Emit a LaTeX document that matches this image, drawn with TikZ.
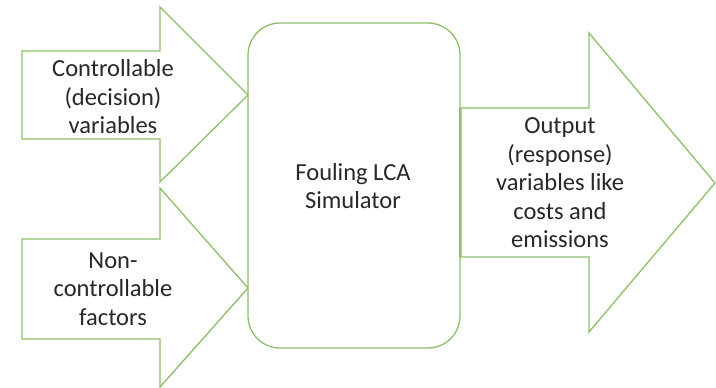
\documentclass[tikz,border=0pt]{standalone}
\usepackage{fontspec}
\setmainfont{Carlito}
\definecolor{arrgreen}{RGB}{140,192,108}
\definecolor{txtgray}{RGB}{40,40,40}
\tikzset{
  shapeline/.style={draw=arrgreen, line width=1.3pt, fill=white, line join=miter},
  lbl/.style={align=center, text=txtgray, font=\fontsize{24.5}{28.5}\selectfont, inner sep=0pt}
}
\begin{document}
\begin{tikzpicture}[x=1pt,y=-1pt]
\useasboundingbox (0,0) rectangle (716,388);
% top input arrow
\draw[shapeline] (22,51) -- (160,51) -- (160,7) -- (248,95) -- (160,182) -- (160,139) -- (22,139) -- cycle;
% bottom input arrow
\draw[shapeline] (22,239) -- (160,239) -- (160,188) -- (248,288) -- (160,387) -- (160,339) -- (22,339) -- cycle;
% output arrow
\draw[shapeline] (461,108) -- (589,108) -- (589,33) -- (715,183) -- (589,332) -- (589,257) -- (461,257) -- cycle;
% simulator box
\draw[shapeline, rounded corners=32pt] (248,23) rectangle (460,348);
\draw[draw=arrgreen, line width=1.3pt] (460,108) -- (460,257);
\node[lbl] (ctrl) at (113,97) {Controllable\\(decision)\\variables};
\node[lbl] (nonctrl) at (113,289) {Non-\\controllable\\factors};
\node[lbl] (sim) at (353,186) {Fouling LCA\\Simulator};
\node[lbl] (out) at (560,183) {Output\\(response)\\variables like\\costs and\\emissions};
\end{tikzpicture}
\end{document}
